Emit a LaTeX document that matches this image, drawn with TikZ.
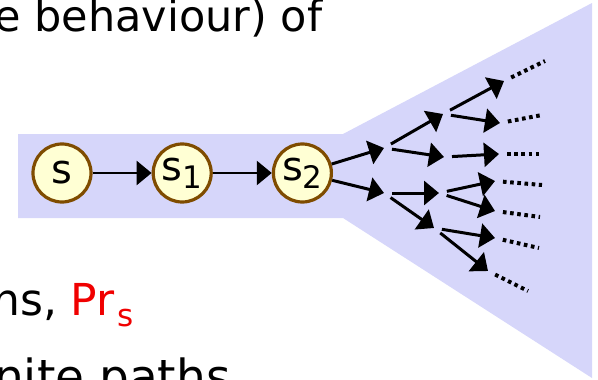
\documentclass[tikz,border=0pt]{standalone}
\usepackage{fontspec}
\setmainfont{DejaVu Sans}
\usetikzlibrary{arrows.meta, positioning}
\definecolor{mfan}{HTML}{D6D6FA}
\definecolor{mstate}{HTML}{FFFFD4}
\definecolor{mbrown}{HTML}{7F4C00}
\definecolor{mred}{HTML}{F00000}
\newcommand{\lowsub}[1]{\raisebox{-8pt}{\fontsize{31}{31}\selectfont #1}}
\tikzset{
  state/.style={circle, draw=mbrown, line width=3.2pt, fill=mstate,
                minimum size=58pt, inner sep=0pt, font=\fontsize{40}{40}\selectfont},
  slide/.style={anchor=base west, inner sep=0pt},
  tarr/.style={-{Triangle[length=15pt,width=24pt]}, line width=2.6pt},
  brarr/.style={tarr, line width=3pt, shorten <=8pt},
  more/.style={line width=4pt, dash pattern=on 3.6pt off 3.6pt, shorten <=8pt},
}

\begin{document}
\begin{tikzpicture}[x=1pt, y=-1pt]
  \useasboundingbox (0,0) rectangle (598,380);
  % the fan of paths
  \fill[mfan] (18,134) -- (343,134) -- (592,3) -- (592,378) -- (343,218) -- (18,218) -- cycle;

  % slide text
  \node[slide, font=\fontsize{43}{43}\selectfont] (top) at (-6,31) {e behaviour) of};
  \node[slide, font=\fontsize{44}{44}\selectfont] (prob) at (-8,315)
    {ns, \textcolor{mred}{Pr\kern3pt\raisebox{-11pt}{\fontsize{31}{31}\selectfont s}}};
  \node[slide, font=\fontsize{47}{47}\selectfont] (paths) at (-6,393) {nite paths};

  % path s s1 s2
  \node[state] (s) at (62,173) {s};
  \node[state, right=59pt of s] (s1) {s\lowsub{1}};
  \node[state, right=59pt of s1] (s2) {s\lowsub{2}};
  \draw[tarr] (s) -- (s1);
  \draw[tarr] (s1) -- (s2);

  % branching
  \coordinate (a1) at (384,148);
  \coordinate (a2) at (384,193);
  \coordinate (b1) at (443,114);
  \coordinate (b2) at (444,157);
  \coordinate (b3) at (439,193);
  \coordinate (b4) at (434,228);
  \coordinate (c1) at (504,81);
  \coordinate (c2) at (500,123);
  \coordinate (c3) at (499,154);
  \coordinate (c4) at (495,181);
  \coordinate (c5) at (495,211);
  \coordinate (c6) at (495,238);
  \coordinate (c7) at (488,271);
  \coordinate (d1) at (545,61);
  \coordinate (d2) at (542,115);
  \coordinate (d3) at (542,154);
  \coordinate (d4) at (542,185);
  \coordinate (d5) at (540,217);
  \coordinate (d6) at (539,248);
  \coordinate (d7) at (528,291);

  \draw[tarr, line width=3pt] (s2) -- (a1);
  \draw[tarr, line width=3pt] (s2) -- (a2);
  \draw[brarr] (a1) -- (b1);
  \draw[brarr] (a1) -- (b2);
  \draw[brarr] (a2) -- (b3);
  \draw[brarr] (a2) -- (b4);
  \draw[brarr] (b1) -- (c1);
  \draw[brarr] (b1) -- (c2);
  \draw[brarr] (b2) -- (c3);
  \draw[brarr] (b3) -- (c4);
  \draw[brarr] (b3) -- (c5);
  \draw[brarr] (b4) -- (c6);
  \draw[brarr] (b4) -- (c7);
  \foreach \i in {1,...,7}
    \draw[more] (c\i) -- (d\i);
\end{tikzpicture}
\end{document}
